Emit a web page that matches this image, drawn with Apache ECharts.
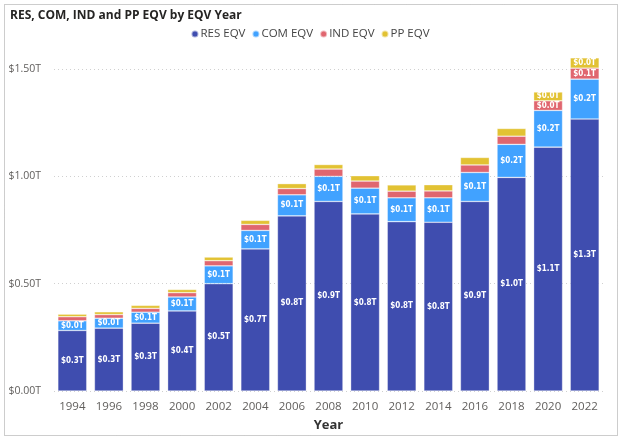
<!DOCTYPE html>
<html>
<head>
<meta charset="utf-8">
<script src="https://cdn.jsdelivr.net/npm/echarts@6/dist/echarts.min.js"></script>
<style>
html,body{margin:0;padding:0;background:#fff;}
#chart{width:620px;height:437px;}
</style>
</head>
<body>
<div id="chart"></div>
<script>
var years = ['1994','1996','1998','2000','2002','2004','2006','2008','2010','2012','2014','2016','2018','2020','2022'];
var resEqv = [0.282,0.293,0.316,0.373,0.500,0.662,0.816,0.883,0.825,0.789,0.786,0.883,0.995,1.136,1.267];
var comEqv = [0.045,0.046,0.051,0.065,0.083,0.086,0.098,0.117,0.120,0.111,0.114,0.135,0.154,0.171,0.186];
var indEqv = [0.019,0.017,0.018,0.020,0.024,0.028,0.029,0.034,0.033,0.031,0.032,0.035,0.038,0.045,0.051];
var ppEqv  = [0.012,0.013,0.014,0.015,0.017,0.019,0.023,0.021,0.025,0.029,0.029,0.035,0.036,0.041,0.048];
var yTicks = [0, 0.5, 1.0, 1.5];

var chart = echarts.init(document.getElementById('chart'), null, {renderer:'canvas'});
var FONT = '"Open Sans", "DejaVu Sans", sans-serif';
var NARROW = '"Liberation Sans Narrow", "DejaVu Sans Condensed", "Open Sans", sans-serif';

function fmtT(v){ return '$' + v.toFixed(1) + 'T'; }
function mkSeries(name, data, color, minShow){
  return {
    name: name, type: 'bar', stack: 'eqv', data: data, clip: false,
    barCategoryGap: '21%',
    itemStyle: { color: color, borderColor: 'rgba(255,255,255,0.55)', borderWidth: 0.6 },
    label: {
      show: true, position: 'inside', color: '#fff', fontSize: 8, fontWeight: 'bold',
      fontFamily: NARROW,
      formatter: function(p){ return p.value >= minShow ? fmtT(p.value) : ''; }
    },
    emphasis: { disabled: true }
  };
}

chart.setOption({
  animation: false,
  backgroundColor: '#fff',
  textStyle: { fontFamily: FONT },
  title: {
    text: 'RES, COM, IND and PP EQV by EQV Year',
    left: 5, top: 5,
    textStyle: { fontSize: 12, fontWeight: 'bold', color: '#252423', fontFamily: FONT }
  },
  legend: {
    top: 23, left: 'center',
    icon: 'circle', itemWidth: 7, itemHeight: 7, itemGap: 6,
    textStyle: { fontSize: 11.5, color: '#444', fontFamily: FONT, padding: [0,0,0,-3] },
    data: ['RES EQV','COM EQV','IND EQV','PP EQV']
  },
  grid: { left: 54, right: 17, top: 69, bottom: 43, containLabel: false },
  xAxis: {
    type: 'category', data: years,
    name: 'Year', nameLocation: 'middle', nameGap: 28,
    nameTextStyle: { fontSize: 13, fontWeight: 'bold', color: '#333', fontFamily: FONT },
    axisLine: { show: false }, axisTick: { show: false },
    axisLabel: { interval: 0, fontSize: 11.5, color: '#605E5C', margin: 10, fontFamily: FONT }
  },
  yAxis: {
    type: 'value', min: 0, max: 1.5, interval: 0.5,
    axisLine: { show: false }, axisTick: { show: false },
    axisLabel: { fontSize: 10.5, color: '#605E5C', margin: 13, fontFamily: FONT,
      formatter: function(v){ return '$' + v.toFixed(2) + 'T'; } },
    splitLine: { show: true, lineStyle: { color: '#d0d0d0', type: [1,3], width: 1 } }
  },
  graphic: [{
    type: 'rect', left: 2, top: 2, silent: true,
    shape: { width: 613, height: 431 },
    style: { fill: 'none', stroke: '#9a9a9a', lineWidth: 1, lineDash: [1,1] }
  }],
  series: [
    mkSeries('RES EQV', resEqv, '#3F4DAF', 0.04),
    mkSeries('COM EQV', comEqv, '#41A2FF', 0.04),
    mkSeries('IND EQV', indEqv, '#E0666F', 0.04),
    mkSeries('PP EQV', ppEqv, '#E2C233', 0.04)
  ]
});
</script>
</body>
</html>
